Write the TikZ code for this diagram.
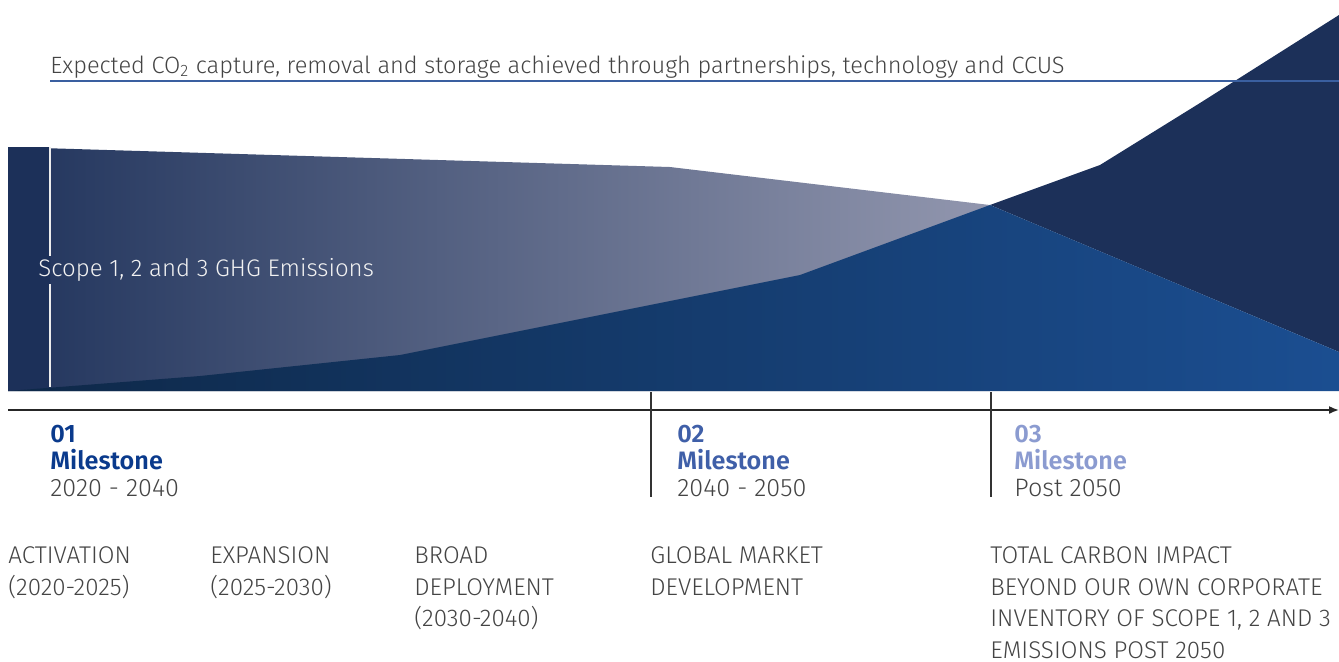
\documentclass[tikz,border=0pt]{standalone}
\usepackage{fontspec}
\setmainfont{Fira Sans Light}[BoldFont=Fira Sans SemiBold]
\usepackage{tikz}
\usetikzlibrary{positioning,arrows.meta}
\definecolor{navy}{RGB}{28,48,89}
\definecolor{deepblue}{RGB}{27,78,145}
\definecolor{darkteal}{RGB}{14,40,72}
\definecolor{mist}{RGB}{140,145,170}
\definecolor{rulblue}{RGB}{58,95,160}
\definecolor{ink}{RGB}{68,68,68}
\definecolor{msone}{RGB}{10,58,140}
\definecolor{mstwo}{RGB}{63,95,168}
\definecolor{msthree}{RGB}{139,155,208}

\begin{document}
\begin{tikzpicture}[
  x=0.5pt, y=-0.5pt,
  txt/.style={font=\fontsize{11.8}{16}\selectfont,text=ink,inner sep=0pt,align=left},
  phase/.style={txt,anchor=north west,font=\fontsize{12.1}{15.9}\selectfont},
  mile/.style={txt,anchor=north west,font=\fontsize{12.6}{13.5}\selectfont},
  tick/.style={draw=black!80,line width=0.6pt},
]
  \useasboundingbox (0,0) rectangle (1339,661);

  % emissions band
  \shade[left color=navy!95!mist,right color=mist!95!white]
    (8,147) -- (670,167) -- (990,205) -- (990,391) -- (8,391) -- cycle;
  \fill[navy] (8,147) -- (50,147) -- (50,388) -- (8,391) -- cycle;
  % capture wedge
  \fill[navy] (990,205) -- (1100,165) -- (1200,103) -- (1339,15) -- (1339,352) -- cycle;
  % removal area
  \shade[left color=darkteal,right color=deepblue]
    (8,391) -- (200,376) -- (400,355) -- (800,275) -- (990,205)
    -- (1339,352) -- (1339,391) -- cycle;

  \coordinate (wl1) at (50,147);
  \coordinate (wl2) at (50,256);
  \coordinate (wl3) at (50,284);
  \coordinate (wl4) at (50,387);
  \draw[white!85!gray,line width=0.8pt] (wl1) -- (wl2) (wl3) -- (wl4);
  \node[txt,text=white!90!gray,anchor=west,font=\fontsize{12}{14}\selectfont] (scope) at (38,270) {Scope 1, 2 and 3 GHG Emissions};

  % headline
  \node[txt,anchor=base west] (head) at (50,73)
    {Expected CO\textsubscript{2} capture, removal and storage achieved through partnerships, technology and CCUS};
  \coordinate (hl) at (50,81);
  \coordinate (hr) at (1339,81);
  \draw[rulblue,line width=0.8pt] (hl) -- (hr);

  % timeline
  \coordinate (ax0) at (8,410);
  \coordinate (ax1) at (1339,410);
  \draw[black!85,line width=0.8pt,-{Latex[length=5pt,width=4pt]}] (ax0) -- (ax1);
  \coordinate (ta) at (651,392);
  \coordinate (tb) at (651,497);
  \coordinate (tc) at (991,392);
  \coordinate (td) at (991,497);
  \draw[tick] (ta) -- (tb) (tc) -- (td);

  \node[mile] (m1) at (50,425) {\textcolor{msone}{\bfseries 01}\\\textcolor{msone}{\bfseries Milestone}\\2020 - 2040};
  \node[mile] (m2) at (677,425) {\textcolor{mstwo}{\bfseries 02}\\\textcolor{mstwo}{\bfseries Milestone}\\2040 - 2050};
  \node[mile] (m3) at (1014,425) {\textcolor{msthree}{\bfseries 03}\\\textcolor{msthree}{\bfseries Milestone}\\Post 2050};

  % phases
  \node[phase] (p1) at (8,546) {ACTIVATION\\(2020-2025)};
  \node[phase] (p2) at (210,546) {EXPANSION\\(2025-2030)};
  \node[phase] (p3) at (414,546) {BROAD\\DEPLOYMENT\\(2030-2040)};
  \node[phase] (p4) at (650,546) {GLOBAL MARKET\\DEVELOPMENT};
  \node[phase] (p5) at (990,546) {TOTAL CARBON IMPACT\\BEYOND OUR OWN CORPORATE\\INVENTORY OF SCOPE 1, 2 AND 3\\EMISSIONS POST 2050};
\end{tikzpicture}
\end{document}
